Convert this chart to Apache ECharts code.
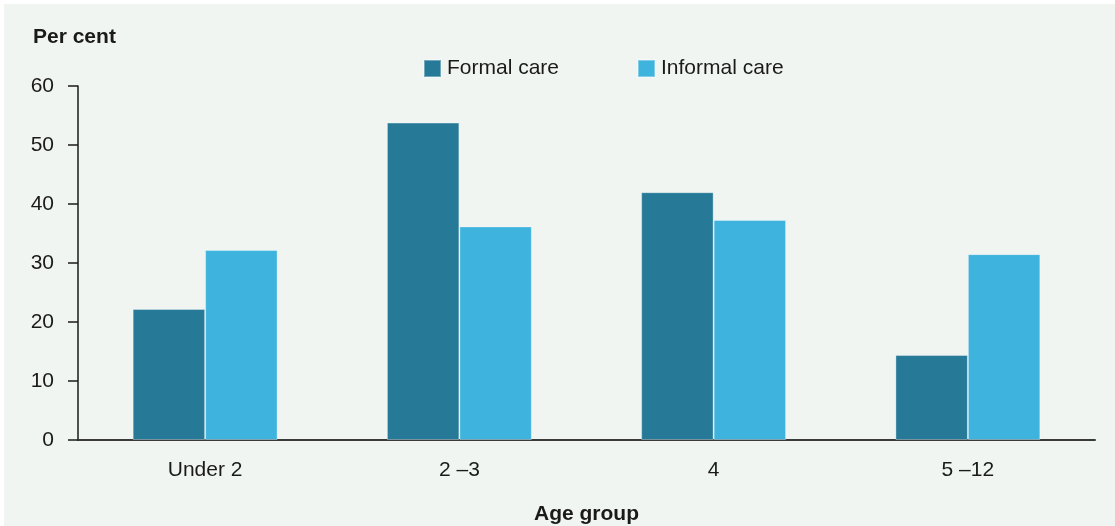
<!DOCTYPE html>
<html>
<head>
<meta charset="utf-8">
<script src="https://cdn.jsdelivr.net/npm/echarts@6/dist/echarts.min.js"></script>
<style>
html,body{margin:0;padding:0;background:#ffffff;width:1115px;height:526px;overflow:hidden;}
#chart{position:absolute;left:4px;top:4px;width:1111px;height:522px;background:#f0f5f2;}
</style>
</head>
<body>
<div id="chart"></div>
<script>
const categories = ['Under 2', '2 \u20133', '4', '5 \u201312'];
const formalCare = [22.2, 53.8, 42.0, 14.4];
const informalCare = [32.2, 36.2, 37.3, 31.5];
const seriesNames = ['Formal care', 'Informal care'];
const yTicks = { min: 0, max: 60, interval: 10 };

const chart = echarts.init(document.getElementById('chart'), null, { renderer: 'canvas' });
const font = "'Liberation Sans', Arial, sans-serif";
chart.setOption({
  backgroundColor: '#f0f5f2',
  animation: false,
  textStyle: { fontFamily: font },
  title: {
    text: 'Per cent',
    left: 29, top: 23, padding: 0,
    textStyle: { fontFamily: font, fontSize: 21, fontWeight: 'bold', color: '#1a1a1a' }
  },
  legend: {
    data: seriesNames,
    left: 419, top: 54, padding: 0,
    itemWidth: 17, itemHeight: 17, itemGap: 78,
    icon: 'rect',
    textStyle: { fontFamily: font, fontSize: 21, color: '#1a1a1a', padding: [0, 0, 0, 1] }
  },
  grid: { left: 74, top: 82, width: 1017, height: 354, containLabel: false, outerBoundsMode: 'none' },
  xAxis: {
    type: 'category',
    data: categories,
    name: 'Age group',
    nameLocation: 'middle',
    nameGap: 64,
    nameTextStyle: { fontFamily: font, fontSize: 21, fontWeight: 'bold', color: '#1a1a1a' },
    axisLine: { lineStyle: { color: '#3a3a3a', width: 2 } },
    axisTick: { show: false },
    axisLabel: { fontFamily: font, fontSize: 21, color: '#1a1a1a', margin: 20 }
  },
  yAxis: {
    type: 'value',
    min: yTicks.min, max: yTicks.max, interval: yTicks.interval,
    axisLine: { show: true, lineStyle: { color: '#1a1a1a', width: 1.5 } },
    axisTick: { show: true, length: 10, lineStyle: { color: '#1a1a1a', width: 1.5 } },
    splitLine: { show: false },
    axisLabel: { fontFamily: font, fontSize: 21, color: '#1a1a1a', margin: 24 }
  },
  series: [
    {
      name: seriesNames[0], type: 'bar', data: formalCare,
      barGap: '0%', barCategoryGap: '43%',
      itemStyle: { color: '#267a98', borderColor: 'rgba(255,255,255,0.35)', borderWidth: 1 }
    },
    {
      name: seriesNames[1], type: 'bar', data: informalCare,
      barGap: '0%', barCategoryGap: '43%',
      itemStyle: { color: '#3eb3de', borderColor: 'rgba(255,255,255,0.35)', borderWidth: 1 }
    }
  ]
});
</script>
</body>
</html>
